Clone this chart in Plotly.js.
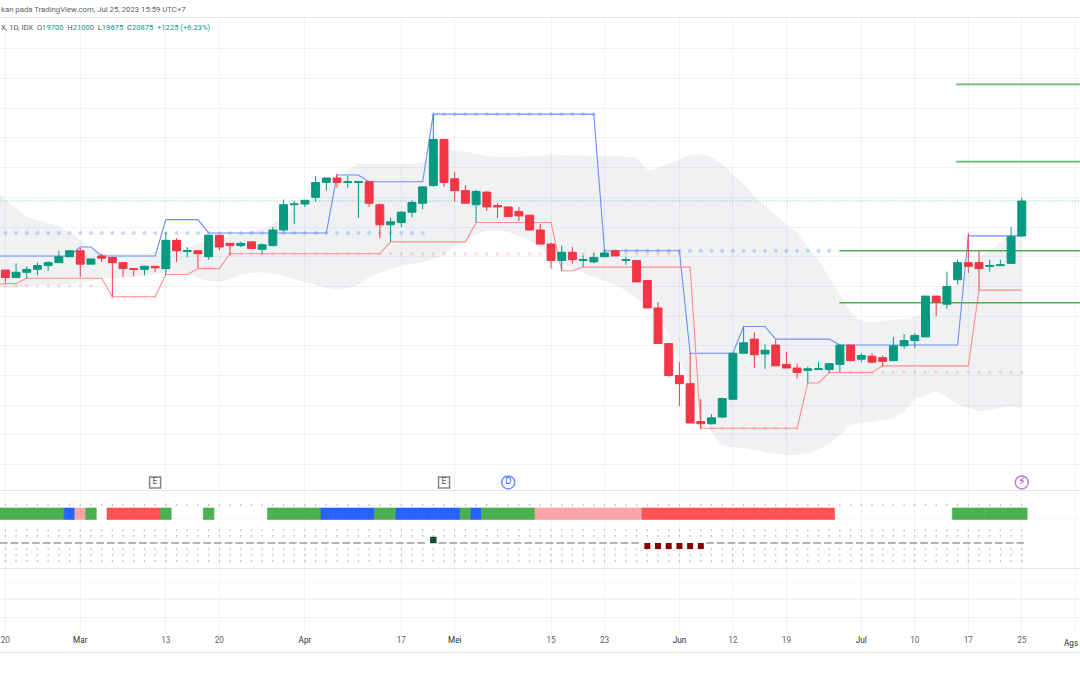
<!DOCTYPE html>
<html>
<head>
<meta charset="utf-8">
<script src="https://cdn.plot.ly/plotly-3.0.1.min.js"></script>
<style>html,body{margin:0;padding:0;background:#fff}#chart{width:1080px;height:675px}</style>
</head>
<body>
<div id="chart"></div>
<script>
const tickIdx = [0,7,15,20,28,37,42,51,56,63,68,73,80,85,90,95,100];
const tickLabels = ['20','Mar','13','20','Apr','17','Mei','15','23','Jun','12','19','Jul','10','17','25',''];
const lastTickLabel = 'Ags';
const monthLabels = ['Mar','Apr','Mei','Jun','Jul'];

const open = [18550,18300,18475,18575,18700,18800,19000,19200,18750,19025,18975,18800,18600,18575,18675,18600,19550,19175,19200,19000,19725,19450,19375,19500,19250,19375,19900,20750,20775,21000,21500,21650,21500,21500,21525,20750,20075,20150,20500,20800,21400,22950,21625,21225,20750,21175,20725,20675,20525,20400,19900,19425,18875,19150,18875,18825,19000,19200,18875,18875,18200,17275,16075,15000,14725,13450,13375,13600,14200,15750,16225,15725,16025,15375,15250,15175,15200,15200,15375,16025,15550,15650,15600,15500,16000,16175,16300,17675,17400,18225,18800,18800,18675,18700,18775,19700];
const high = [18550,18775,18675,18800,18850,19200,19225,19300,18925,19100,19000,18800,18600,18700,18700,19825,19625,19325,19200,19725,19725,19450,19500,19525,19450,20000,20925,20875,20900,21725,21650,21800,21725,21525,21525,20800,20325,20525,20900,21375,23800,22975,21850,21400,21250,21200,20800,20700,20675,20400,20100,19475,19375,19325,19050,19125,19225,19225,19000,18875,18200,17475,16100,15450,15750,14200,13700,14250,15775,16650,16450,16050,16200,15800,15400,15300,15450,15400,16025,16025,15750,15750,15675,16300,16400,16425,17675,17675,18500,18900,19800,19200,18900,18900,20000,21000];
const low = [18125,18300,18250,18375,18525,18800,19000,18325,18750,18825,17650,18325,18350,18375,18475,18375,18825,18975,18600,18900,19225,19050,19325,19275,19100,19350,19850,20100,20675,20850,21225,21325,21325,20300,20675,19625,19500,20000,20325,20600,21350,21350,20850,20800,20150,20550,20300,20350,20200,19875,19425,18600,18525,18775,18650,18775,19000,19025,18725,18150,17275,16075,14950,13975,13400,13225,13350,13575,14175,15750,15250,15225,15325,15250,14900,14750,15200,15100,15125,15500,15450,15400,15300,15500,15900,15925,16300,17000,17250,18075,18450,17875,18500,18700,18775,19675];
const close = [18300,18475,18575,18700,18800,19000,19200,18750,18925,18950,18800,18600,18575,18675,18625,19550,19200,19200,19100,19725,19325,19375,19450,19275,19400,19900,20750,20775,20900,21500,21650,21500,21525,21525,20800,20075,20175,20500,20825,21350,22950,21500,21225,20800,21200,20675,20675,20350,20375,19900,19425,18875,19150,18900,18900,18975,19125,19025,18900,18150,17275,16075,15000,14725,13400,13375,13575,14225,15750,16100,15700,15850,15325,15250,15100,15225,15225,15400,16025,15500,15675,15450,15475,16000,16175,16350,17675,17475,18000,18800,18675,18600,18700,18725,19675,20875];

// Bollinger band, Donchian-like lines: first value is the bar just left of the window
const bandUpper = [21250,20910,20640,20340,20240,20140,20000,19830,19560,19260,19090,19090,19120,19120,19120,19160,19260,19260,19330,19430,19530,19630,19700,19800,19870,19930,20100,20370,20610,20810,21040,21310,21650,21920,22150,22120,22120,22120,22120,22120,22190,22390,22530,22590,22530,22460,22390,22360,22360,22360,22390,22390,22460,22420,22420,22420,22390,22390,22390,22360,22320,21920,21990,22120,22260,22420,22460,22360,22120,21750,21450,21010,20710,20400,20100,19800,19330,18860,18320,17710,17140,16840,16800,16840,16870,16900,16970,17140,17440,17780,18110,18550,18960,19230,19500,19760,20170];
const bandLower = [17910,17950,17980,18010,18050,18050,18050,18080,18110,18180,18250,18280,18280,18320,18350,18420,18480,18480,18420,18280,18180,18150,18250,18380,18450,18480,18420,18350,18250,18150,18050,17950,17880,17950,18050,18320,18450,18590,18690,18750,18820,18920,19060,19360,19560,19760,19870,19870,19830,19700,19560,19290,19020,18750,18590,18450,18320,18180,18050,17850,17610,17370,17100,16360,15520,14680,13840,13100,12630,12590,12560,12490,12420,12360,12320,12320,12390,12520,12690,12990,13330,13400,13430,13500,13540,13770,14210,14340,14480,14280,14040,13910,13800,13840,13910,13970,13910];
const upperLine = [19025,19025,19025,19025,19025,19025,19025,19025,19325,19325,19025,19025,19025,19025,19025,19025,20250,20250,20250,20250,19800,19800,19800,19800,19800,19800,19800,19800,19800,19800,19800,19800,21750,21750,21750,21525,21525,21525,21525,21525,21525,23800,23800,23800,23800,23800,23800,23800,23800,23800,23800,23800,23800,23800,23800,23800,23800,19200,19200,19200,19200,19200,19200,19200,19200,15750,15750,15750,15750,15750,16650,16650,16650,16225,16225,16225,16225,16225,16225,16025,16025,16025,16025,16025,16025,16025,16025,16025,16025,16025,16025,19700,19700,19700,19700,19700,19700];
const lowerLine = [18050,18100,18100,18275,18275,18275,18275,18275,18275,18275,18275,17650,17650,17650,17650,17650,18400,18400,18400,18600,18600,18600,19100,19100,19100,19100,19100,19100,19100,19100,19100,19100,19100,19100,19100,19100,19100,19500,19500,19500,19500,19500,19500,19500,19500,20150,20150,20150,20150,20150,20150,20150,20150,18525,18525,18650,18650,18650,18650,18650,18650,18650,18650,18650,18650,18650,13225,13225,13225,13225,13225,13225,13225,13225,13225,13225,14750,14750,15100,15100,15100,15100,15100,15325,15325,15325,15325,15325,15325,15325,15325,15325,17875,17875,17875,17875,17875];

const blueDots = [19800,19800,19800,19800,19800,19800,19800,19800,19800,19800,19800,19800,19800,19800,19800,19800,19800,19800,19800,19800,19800,19800,19800,19800,19800,19800,19800,19800,19800,19800,19800,19800,19800,19800,19800,19800,19800,19800,19800,19800,23800,23800,23800,23800,23800,23800,23800,23800,23800,23800,23800,23800,23800,23800,23800,23800,19200,19200,19200,19200,19200,19200,19200,19200,19200,19200,19200,19200,19200,19200,19200,19200,19200,19200,19200,19200,19200,19200,null,null,null,null,null,null,null,null,null,null,null,null,null,null,null,null,null,null];
const redDots = [18025,18025,18025,18025,18025,18025,18025,18025,18025,null,17650,17650,17650,17650,17650,null,null,null,null,null,null,19100,19100,19100,19100,19100,19100,19100,19100,19100,19100,19100,19100,19100,19100,19100,19100,19100,19100,19100,19100,19100,19100,19100,19100,19100,19100,19100,19100,19100,19100,19100,19100,19100,19100,19100,19100,19100,19100,19100,19100,19100,19100,19100,null,13225,13225,13225,13225,13225,13225,13225,13225,13225,13225,null,null,15100,15100,15100,15100,15100,15100,15100,15100,15100,15100,15100,15100,15100,15100,15100,15100,15100,15100,15100];

const lastPrice = 20875;
const shortLevels = [24800,22200];
const longLevels = [19200,17450];
const shortLevelStart = 88.85, longLevelStart = 77.95;

const stripCodes = ['G','G','G','G','G','G','B','P','G','-','R','R','R','R','R','G','-','-','-','G','-','-','-','-','-','G','G','G','G','G','B','B','B','B','B','G','G','B','B','B','B','B','B','G','B','G','G','G','G','G','P','P','P','P','P','P','P','P','P','P','R','R','R','R','R','R','R','R','R','R','R','R','R','R','R','R','R','R','-','-','-','-','-','-','-','-','-','-','-','G','G','G','G','G','G','G'];
const squeezeUpIdx = [40];
const squeezeDownIdx = [60,61,62,63,64,65];
const zeroLineX = [-0.5,39.5,null,40.5,59.5,null,65.5,95.5];
const zeroLineY = [0,0,null,0,0,null,0,0];
const dotRows = [38,13,7,-6,-12,-18];

const eventIdx = [14,41,47,95];
const eventText = ['E','E','D','<b>⚡</b>'];

const idx = close.map((_, i) => i);
const lineIdx = [-1].concat(idx);
const stripColor = {G:'#4caf50',B:'#2962ff',P:'#f7a6a6',R:'#ff5252'};

const up = '#089981', dn = '#f23645';
const traces = [
  {x:lineIdx,y:bandUpper,mode:'lines',line:{width:0,color:'rgba(0,0,0,0)'},xaxis:'x',yaxis:'y'},
  {x:lineIdx,y:bandLower,mode:'lines',line:{width:0,color:'rgba(0,0,0,0)'},fill:'tonexty',fillcolor:'rgba(120,132,148,0.115)',xaxis:'x',yaxis:'y'},
  {x:[-1,101],y:[lastPrice,lastPrice],mode:'lines',line:{width:1,dash:'1px,2px',color:'rgba(8,153,129,0.6)'},xaxis:'x',yaxis:'y'},
  {x:idx,y:blueDots,mode:'markers',marker:{size:4,color:'rgba(41,98,255,0.25)'},xaxis:'x',yaxis:'y'},
  {x:idx,y:redDots,mode:'markers',marker:{size:3.6,color:'rgba(242,54,69,0.16)'},xaxis:'x',yaxis:'y'},
  {x:lineIdx,y:upperLine,mode:'lines',line:{width:1.1,color:'#6c8dff'},xaxis:'x',yaxis:'y'},
  {x:lineIdx,y:lowerLine,mode:'lines',line:{width:1.1,color:'#ff8e8e'},xaxis:'x',yaxis:'y'}
];
shortLevels.forEach(v => traces.push({x:[shortLevelStart,101],y:[v,v],mode:'lines',line:{width:1.8,color:'#66bb6a'},xaxis:'x',yaxis:'y'}));
longLevels.forEach(v => traces.push({x:[longLevelStart,101],y:[v,v],mode:'lines',line:{width:1.6,color:'#4caf50'},xaxis:'x',yaxis:'y'}));
traces.push({
  x:eventIdx,y:eventIdx.map(()=>11400),mode:'markers+text',text:eventText,textposition:'middle center',
  textfont:{size:[8,8,8,11],color:['#50535e','#50535e','#2962ff','#ab47bc'],family:'DejaVu Sans'},
  marker:{symbol:['square','square','circle','circle'],size:[11,11,13,13],color:'#fff',line:{width:1.5,color:['#50535e','#50535e','#2962ff','#ab47bc']}},
  xaxis:'x',yaxis:'y',cliponaxis:false
});
traces.push({
  type:'candlestick',x:idx,open:open,high:high,low:low,close:close,xaxis:'x',yaxis:'y5',
  increasing:{line:{color:up,width:1},fillcolor:up},
  decreasing:{line:{color:dn,width:1},fillcolor:dn},
  whiskerwidth:0
});
const stripCols = stripCodes.map(c=>stripColor[c]||'#fff');
traces.push({
  type:'bar',x:idx,y:stripCodes.map(c=>c==='-'?null:11.5),base:stripCodes.map(c=>c==='-'?null:23.5),
  width:1,marker:{color:stripCols,line:{width:0.6,color:stripCols}},xaxis:'x',yaxis:'y2'
});
const rowX=[],rowY=[];
dotRows.forEach(r=>idx.forEach(i=>{rowX.push(i);rowY.push(r);}));
traces.push({x:rowX,y:rowY,mode:'markers',marker:{size:1.6,color:'#a8a8a8'},xaxis:'x',yaxis:'y2'});
traces.push({x:zeroLineX,y:zeroLineY,mode:'lines',line:{width:1.4,dash:'7.7px,3px',color:'#9a9a9a'},xaxis:'x',yaxis:'y2'});
traces.push({x:squeezeUpIdx,y:squeezeUpIdx.map(()=>3),mode:'markers',marker:{symbol:'square',size:6.5,color:'#1b4d33'},xaxis:'x',yaxis:'y2'});
traces.push({x:squeezeDownIdx,y:squeezeDownIdx.map(()=>-3),mode:'markers',marker:{symbol:'square',size:6,color:'#880000'},xaxis:'x',yaxis:'y2'});
// the two lower panes are empty, but they need a trace so their axes exist
traces.push({x:[0],y:[0],mode:'markers',marker:{size:1,opacity:0},xaxis:'x',yaxis:'y3'});
traces.push({x:[0],y:[0],mode:'markers',marker:{size:1,opacity:0},xaxis:'x',yaxis:'y4'});

const sepColor = '#e5e6f0';
const hLine = p => ({type:'line',xref:'paper',yref:'paper',x0:0,x1:1,y0:1-p/675,y1:1-p/675,line:{color:sepColor,width:1},layer:'above'});
const baseY = {showticklabels:false,ticks:'',zeroline:false,showline:false,fixedrange:true};
const mainRange=[11145,27071];
const layout = {
  width:1080,height:675,autosize:false,margin:{l:0,r:0,t:0,b:0,pad:0},
  paper_bgcolor:'#fff',plot_bgcolor:'#fff',showlegend:false,barmode:'overlay',boxgap:0.26,boxgroupgap:0,
  xaxis:{
    domain:[0,1],range:[-0.5,100.44],anchor:'y4',tickmode:'array',tickvals:tickIdx,
    ticktext:tickLabels.map(t=>monthLabels.includes(t)?'<span style="color:#2a2e39">'+t+'</span>':t),
    ticks:'',ticklen:0,showgrid:true,gridcolor:'#f0f2f8',gridwidth:1,zeroline:false,showline:false,
    rangeslider:{visible:false},tickfont:{family:'Roboto',size:8.2,color:'#5d606b'},tickangle:0,fixedrange:true
  },
  yaxis:Object.assign({},baseY,{domain:[0.27407,0.97481],range:mainRange,tickmode:'array',
    tickvals:[12000,13000,14000,15000,16000,17000,18000,19000,20000,21000,22000,23000,24000,25000,26000],
    showgrid:true,gridcolor:'#f0f2f8',gridwidth:1,anchor:'x'}),
  yaxis5:Object.assign({},baseY,{overlaying:'y',range:mainRange,showgrid:false,anchor:'x'}),
  yaxis2:Object.assign({},baseY,{domain:[0.15852,0.27407],range:[-25,53],tickmode:'array',tickvals:[25],showgrid:true,gridcolor:'#f5f6fa',anchor:'x'}),
  yaxis3:Object.assign({},baseY,{domain:[0.11259,0.15852],range:[0,31],tickmode:'array',tickvals:[16],showgrid:true,gridcolor:'#f5f6fa',anchor:'x'}),
  yaxis4:Object.assign({},baseY,{domain:[0.06074,0.11259],range:[0,35],tickmode:'array',tickvals:[17],showgrid:true,gridcolor:'#f0f2f8',anchor:'x'}),
  shapes:[hLine(17.5),hLine(490.5),hLine(568.5),hLine(599),hLine(652.5)],
  annotations:[
    {xref:'paper',yref:'paper',x:0,y:1-9.5/675,xanchor:'left',yanchor:'middle',showarrow:false,align:'left',
     text:'kan pada TradingView.com, Jul 25, 2023 15:59 UTC+7',font:{family:'Roboto',size:7.75,color:'#5d606b'},borderpad:0},
    {xref:'paper',yref:'paper',x:0,y:1-27/675,xanchor:'left',yanchor:'middle',showarrow:false,align:'left',borderpad:0,
     font:{family:'Roboto',size:7.6,color:'#50535e'},
     text:'X, 1D, IDX  O<span style="color:#089981">19700</span>  H<span style="color:#089981">21000</span>  L<span style="color:#089981">19675</span>  C<span style="color:#089981">20875</span>  <span style="color:#089981">+1225 (+6.23%)</span>'},
    {xref:'paper',yref:'paper',x:1079/1080,y:1-642.5/675,xanchor:'right',yanchor:'middle',showarrow:false,borderpad:0,
     text:lastTickLabel,font:{family:'Roboto',size:8.2,color:'#2a2e39'}}
  ]
};
Plotly.newPlot('chart',traces,layout,{staticPlot:true,displayModeBar:false});
</script>
</body>
</html>
